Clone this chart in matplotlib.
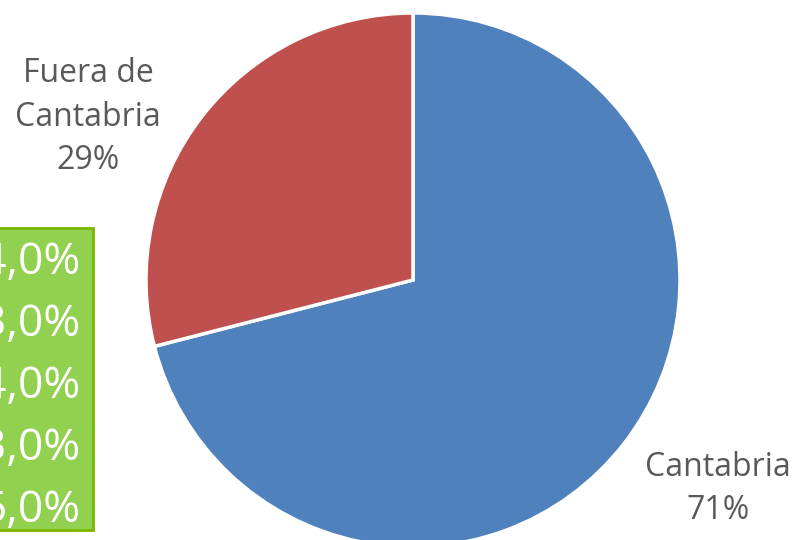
import matplotlib.pyplot as plt
from matplotlib.patches import Rectangle

# shares of the pie
categories = ['Cantabria', 'Fuera de\nCantabria']
shares = [71, 29]
colors = ['#4F81BD', '#C0504D']

# percentages visible in the clipped green box on the left
box_values = ['4,0%', '3,0%', '4,0%', '3,0%', '5,0%']

W, H = 794, 540
plt.rcParams['font.family'] = ['Open Sans', 'DejaVu Sans']

fig = plt.figure(figsize=(W / 100, H / 100), dpi=100)
ax = fig.add_axes([0, 0, 1, 1])
ax.set_xlim(0, W)
ax.set_ylim(H, 0)
ax.set_aspect('equal')
ax.axis('off')

# pie drawn in its own axes so the y-axis is not flipped
pax = fig.add_axes([0, 0, 1, 1])
pax.pie(shares, colors=colors, startangle=90, counterclock=False,
        center=(413, H - 280), radius=267, frame=True,
        wedgeprops=dict(edgecolor='white', linewidth=2.5))
pax.set_xlim(0, W)
pax.set_ylim(0, H)
pax.set_aspect('equal')
pax.axis('off')

# labels
label_pos = [(718, 489), (88, 117)]
for name, val, (x, y) in zip(categories, shares, label_pos):
    ax.text(x, y, f'{name}\n{val}%', ha='center', va='center',
            fontsize=23, color='#595959', linespacing=1.42)

# green box
ax.add_patch(Rectangle((-10, 228), 103, 302, facecolor='#92D050',
                       edgecolor='#7AB800', linewidth=2, zorder=3))
for i, v in enumerate(box_values):
    ax.text(80, 263 + i * 62, v, ha='right', va='center',
            fontsize=32, color='white', zorder=4)

fig.savefig('out.png', dpi=100)
